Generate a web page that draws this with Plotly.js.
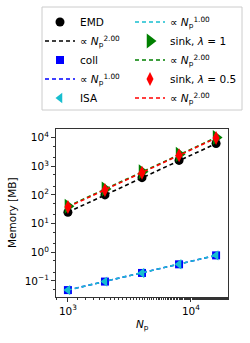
<!DOCTYPE html>
<html><head><meta charset="utf-8">
<script src="https://cdn.plot.ly/plotly-3.0.1.min.js"></script>
<style>html,body{margin:0;padding:0;background:#fff}#c{width:250px;height:343px}</style>
</head><body><div id="c"></div>
<script>
const Np = [1000, 2000, 4000, 8000, 16000];
const emd = [25, 100, 400, 1600, 6200];
const coll = [0.048, 0.095, 0.19, 0.38, 0.78];
const isa = [0.048, 0.095, 0.19, 0.38, 0.78];
const sink1 = [40, 160, 640, 2600, 10000];
const sink05 = [38, 150, 600, 2400, 9600];
const xTickVals = [1000, 10000];
const xTickText = ['10<sup>3</sup>', '10<sup>4</sup>'];
const yTickVals = [0.1, 1, 10, 100, 1000, 10000];
const yTickText = ['10<sup>−1</sup>', '10<sup>0</sup>', '10<sup>1</sup>', '10<sup>2</sup>', '10<sup>3</sup>', '10<sup>4</sup>'];
const xTitle = '<i>N</i><sub>p</sub>';
const yTitle = 'Memory [MB]';

const fitLbl = e => '∝ <i>N</i><sub>p</sub><sup>' + e + '</sup>';
const dash = {dash: '4px,3px', width: 1.6};
const traces = [
  {x: Np, y: emd, mode: 'markers', name: 'EMD', legend: 'legend', legendrank: 1,
   marker: {symbol: 'circle', color: 'black', size: 9}},
  {x: Np, y: emd, mode: 'lines', name: fitLbl('2.00'), legend: 'legend', legendrank: 2,
   line: Object.assign({color: 'black'}, dash)},
  {x: Np, y: coll, mode: 'markers', name: 'coll', legend: 'legend', legendrank: 3,
   marker: {symbol: 'square', color: 'blue', size: 8}},
  {x: Np, y: coll, mode: 'lines', name: fitLbl('1.00'), legend: 'legend', legendrank: 4,
   line: Object.assign({color: 'blue'}, dash)},
  {x: Np, y: isa, mode: 'markers', name: 'ISA', legend: 'legend', legendrank: 5,
   marker: {symbol: 'triangle-left', color: '#17becf', size: 9}},
  {x: Np, y: isa, mode: 'lines', name: fitLbl('1.00'), legend: 'legend2', legendrank: 1,
   line: Object.assign({color: '#17becf'}, dash)},
  {x: Np, y: sink1, mode: 'markers', name: 'sink, <i>λ</i> = 1', legend: 'legend2', legendrank: 2,
   marker: {symbol: 'triangle-right', color: 'green', size: 13}},
  {x: Np, y: sink1, mode: 'lines', name: fitLbl('2.00'), legend: 'legend2', legendrank: 3,
   line: Object.assign({color: 'green'}, dash)},
  {x: Np, y: sink05, mode: 'markers', name: 'sink, <i>λ</i> = 0.5', legend: 'legend2', legendrank: 4,
   marker: {symbol: 'diamond-tall', color: 'red', size: 10}},
  {x: Np, y: sink05, mode: 'lines', name: fitLbl('2.00'), legend: 'legend2', legendrank: 5,
   line: Object.assign({color: 'red'}, dash)}
];

const axBase = {
  type: 'log', showline: true, linecolor: '#333', linewidth: 1, mirror: true,
  ticks: 'outside', ticklen: 4, tickcolor: '#333', showgrid: false, zeroline: false,
  tickmode: 'array', tickfont: {size: 10.5, color: 'black'}, automargin: false,
  minor: {ticks: 'outside', ticklen: 2, tickcolor: '#333', showgrid: false}
};
const legBase = {
  orientation: 'v', xref: 'container', yref: 'container',
  y: 0.978, xanchor: 'left', yanchor: 'top',
  borderwidth: 0, bgcolor: 'rgba(0,0,0,0)', font: {size: 10.5}
};
const L = 56, T = 129, W = 172, H = 168;
const px2x = p => (p - L) / W, px2y = p => (T + H - p) / H;
const layout = {
  width: 250, height: 343,
  margin: {l: L, r: 250 - L - W, t: T, b: 343 - T - H, autoexpand: false},
  paper_bgcolor: 'white', plot_bgcolor: 'white',
  font: {family: 'DejaVu Sans', size: 10.5, color: 'black'},
  showlegend: true,
  legend: Object.assign({}, legBase, {x: 0.16}),
  legend2: Object.assign({}, legBase, {x: 0.52}),
  shapes: [{type: 'rect', xref: 'paper', yref: 'paper',
    x0: px2x(42), x1: px2x(242), y0: px2y(110), y1: px2y(7),
    line: {color: '#cccccc', width: 1}, fillcolor: 'white', layer: 'above'}],
  annotations: [
    {text: xTitle, xref: 'paper', yref: 'paper', x: 0.5, y: px2y(325),
     xanchor: 'center', yanchor: 'middle', showarrow: false, font: {size: 10.5}},
    {text: yTitle, xref: 'paper', yref: 'paper', x: px2x(12), y: 0.5, textangle: -90,
     xanchor: 'center', yanchor: 'middle', showarrow: false, font: {size: 10.5}}
  ],
  xaxis: Object.assign({}, axBase, {
    range: [Math.log10(800), Math.log10(20000)],
    tickvals: xTickVals, ticktext: xTickText
  }),
  yaxis: Object.assign({}, axBase, {
    range: [-1.56, 4.3],
    tickvals: yTickVals, ticktext: yTickText
  })
};
Plotly.newPlot('c', traces, layout, {displayModeBar: false, staticPlot: true});
</script></body></html>
